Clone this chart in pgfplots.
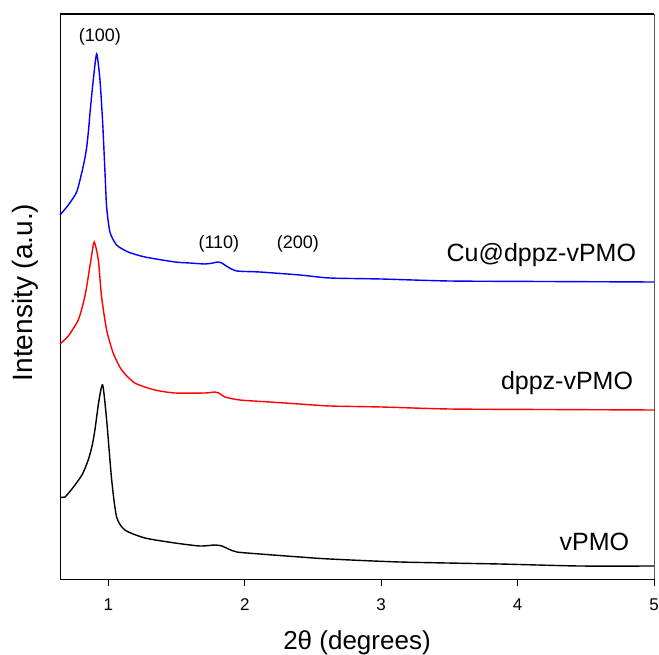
\documentclass[border=0pt]{standalone}
\usepackage{pgfplots}
\pgfplotsset{compat=1.18}
\usepackage{fontspec}
\setmainfont{Liberation Sans}
\begin{document}
\begin{tikzpicture}
\useasboundingbox (-60pt,-75pt) rectangle (599pt,579pt);
\begin{axis}[
  at={(0,0)}, anchor=south west,
  scale only axis, width=594pt, height=565pt,
  xmin=0.645, xmax=5, ymin=0, ymax=565,
  xtick={1,2,3,4,5}, ytick=\empty,
  tick align=outside, major tick length=7pt,
  xtick pos=bottom,
  tick style={black, line width=0.8pt},
  axis line style={black, line width=0.8pt},
  /pgf/number format/assume math mode=true,
  tick label style={font=\fontsize{17}{20}\selectfont},
  xticklabel style={yshift=-9pt},
  xlabel={2θ (degrees)},
  ylabel={Intensity (a.u.)},
  xlabel style={font=\fontsize{26}{30}\selectfont, at={(axis description cs:0.5,-0.1239)}, anchor=base},
  ylabel style={font=\fontsize{28}{32}\selectfont, at={(axis description cs:-0.0471,0.507)}, anchor=base},
  clip=false,
  every axis plot/.append style={smooth, tension=0.4, line width=1.4pt},
]
\addplot[blue] coordinates {
(0.645,364) (0.706,374) (0.767,387) (0.804,406) (0.825,419) (0.841,432) (0.855,450) (0.865,466) (0.889,499) (0.914,525) (0.938,499) (0.958,456) (0.975,406) (0.987,372) (1.011,347) (1.060,334) (1.145,327) (1.268,322) (1.488,317) (1.597,316) (1.707,315) (1.766,316) (1.80,317) (1.83,316) (1.876,312) (1.942,308) (2.110,307) (2.403,304) (2.623,301) (3.0,300) (3.502,298) (4.2,297.5) (5.0,297)
};
\addplot[red] coordinates {
(0.645,235) (0.706,243) (0.779,259) (0.816,276) (0.835,288) (0.852,302) (0.875,322) (0.896,337) (0.926,319) (0.950,282) (0.987,249) (1.035,226) (1.097,209) (1.194,196) (1.341,189) (1.488,186) (1.707,186) (1.781,187) (1.810,186) (1.854,182) (1.964,179) (2.183,177) (2.40,175) (2.623,173) (3.0,172) (3.502,170) (4.2,169.5) (5.0,169)
};
\addplot[black] coordinates {
(0.645,82) (0.682,82) (0.755,94) (0.810,105) (0.852,119) (0.880,133) (0.901,149) (0.930,178) (0.958,194) (0.987,159) (1.024,99) (1.060,62) (1.121,49) (1.268,41) (1.488,36) (1.671,33) (1.781,34) (1.832,33) (1.880,30) (1.942,27) (2.110,25) (2.403,22) (2.623,20) (3.136,17) (3.868,15) (4.454,13) (5.0,13)
};
\draw[black, line width=1.6pt] (rel axis cs:0,1) -- (rel axis cs:1,1);
\draw[gray!70!black, line width=0.8pt] (rel axis cs:1,0) -- (rel axis cs:1,1);
\node[font=\fontsize{18}{21}\selectfont] at (axis cs:0.938,542) {(100)};
\node[font=\fontsize{18}{21}\selectfont] at (axis cs:1.810,335) {(110)};
\node[font=\fontsize{18}{21}\selectfont] at (axis cs:2.389,335) {(200)};
\node[font=\fontsize{25}{28}\selectfont, anchor=east] at (axis cs:4.894,324) {Cu@dppz-vPMO};
\node[font=\fontsize{25}{28}\selectfont, anchor=east] at (axis cs:4.872,196) {dppz-vPMO};
\node[font=\fontsize{25}{28}\selectfont, anchor=east] at (axis cs:4.843,37) {vPMO};
\end{axis}
\end{tikzpicture}
\end{document}
